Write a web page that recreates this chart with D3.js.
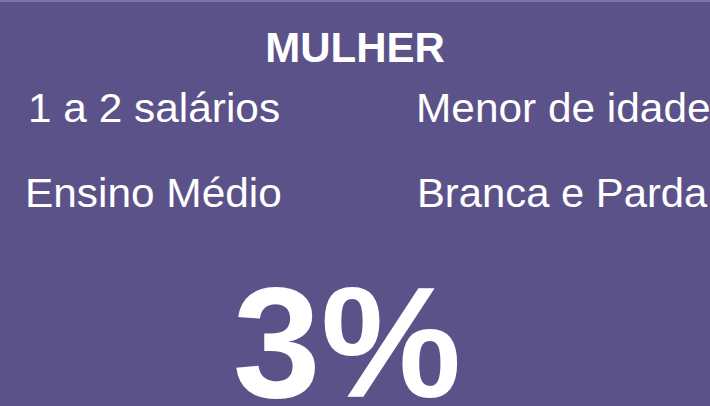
<!DOCTYPE html>
<html><head><meta charset="utf-8">
<script src="https://cdn.jsdelivr.net/npm/d3@7"></script>
<style>html,body{margin:0;padding:0;background:#5c528a;overflow:hidden}</style>
</head><body>
<script>
const title = "MULHER";
const leftLabels = ["1 a 2 salários", "Ensino Médio"];
const rightLabels = ["Menor de idade", "Branca e Parda"];
const percentValue = [3];

const W = 710, H = 406;
const svg = d3.select("body").append("svg").attr("width", W).attr("height", H);
svg.append("rect").attr("width", W).attr("height", H).attr("fill", "#5c528a");
svg.append("rect").attr("width", W).attr("height", 2).attr("fill", "#7d75a3");

const font = "'Liberation Sans', Arial, sans-serif";
svg.append("text").attr("x", 355).attr("y", 62).attr("text-anchor", "middle")
  .attr("font-family", font).attr("font-weight", "bold").attr("font-size", 42)
  .attr("fill", "#fff").text(title);

const rowY = d3.scalePoint().domain([0, 1]).range([122, 207]);
const sx = 1.06;
svg.selectAll("text.l").data(leftLabels).join("text").attr("class", "l")
  .attr("transform", (d, i) => `translate(${i === 0 ? 28 : 25},${rowY(i)}) scale(${sx},1)`)
  .attr("font-family", font).attr("font-size", 40).attr("fill", "#fff").text(d => d);
svg.selectAll("text.r").data(rightLabels).join("text").attr("class", "r")
  .attr("transform", (d, i) => `translate(${i === 0 ? 416 : 417},${rowY(i)}) scale(${i === 0 ? sx : 1.045},1)`)
  .attr("font-family", font).attr("font-size", 40).attr("fill", "#fff").text(d => d);

const fmt = d3.format("d");
svg.selectAll("text.p").data(percentValue).join("text").attr("class", "p")
  .attr("x", 347).attr("y", 397).attr("text-anchor", "middle")
  .attr("font-family", font).attr("font-weight", "bold").attr("font-size", 158)
  .attr("fill", "#fff").text(d => fmt(d) + "%");
</script>
</body></html>
